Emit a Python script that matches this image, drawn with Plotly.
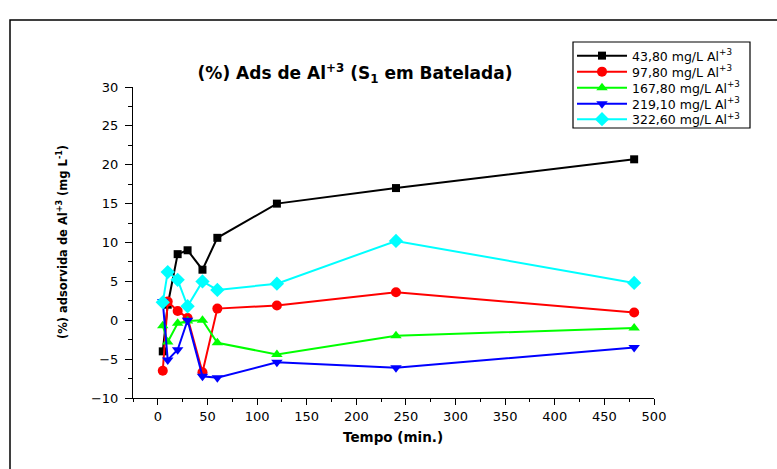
import plotly.graph_objects as go

tempo = [5, 10, 20, 30, 45, 60, 120, 240, 480]
s_43_80 = [-4.0, 2.0, 8.5, 9.0, 6.5, 10.6, 15.0, 17.0, 20.7]
s_97_80 = [-6.5, 2.4, 1.2, 0.3, -6.7, 1.5, 1.9, 3.6, 1.0]
s_167_80 = [-0.7, -2.8, -0.4, -0.1, 0.0, -2.9, -4.4, -2.0, -1.0]
s_219_10 = [2.4, -5.1, -3.8, 0.0, -7.2, -7.4, -5.4, -6.1, -3.5]
s_322_60 = [2.3, 6.2, 5.2, 1.8, 5.0, 3.9, 4.7, 10.2, 4.8]

names = ["43,80 mg/L Al<sup>+3</sup>", "97,80 mg/L Al<sup>+3</sup>",
         "167,80 mg/L Al<sup>+3</sup>", "219,10 mg/L Al<sup>+3</sup>",
         "322,60 mg/L Al<sup>+3</sup>"]
series = [s_43_80, s_97_80, s_167_80, s_219_10, s_322_60]
colors = ["#000000", "#FF0000", "#00FF00", "#0000FF", "#00FFFF"]
symbols = ["square", "circle", "triangle-up", "triangle-down", "diamond"]
sizes = [8, 10, 10, 10, 11]

x_ticks = list(range(0, 501, 50))
y_ticks = list(range(-10, 31, 5))

W, H = 777, 469
PL, PR, PT, PB = 133, 654, 87, 398  # plot area in pixels

font = "DejaVu Sans, Liberation Sans, Arial, sans-serif"

def px_x(p):
    return (p - PL) / (PR - PL)

def px_y(p):
    return (PB - p) / (PB - PT)

legend_rows = [56, 72, 88, 104, 119.5]

fig = go.Figure()
layout_legends = {}
for i, (nm, ys, c, sym, sz) in enumerate(zip(names, series, colors, symbols, sizes)):
    lg = "legend" if i == 0 else f"legend{i + 1}"
    fig.add_trace(go.Scatter(
        x=tempo, y=ys, name=nm, mode="lines+markers",
        line=dict(color=c, width=2),
        marker=dict(symbol=sym, size=sz, color=c, line=dict(width=0)),
        cliponaxis=False, legend=lg,
    ))
    layout_legends[lg] = dict(
        xref="container", yref="container",
        x=572 / W, y=1 - legend_rows[i] / H, xanchor="left", yanchor="middle",
        bgcolor="rgba(0,0,0,0)", borderwidth=0,
        font=dict(size=12.5, family=font, color="black"),
        itemwidth=50,
    )

fig.update_layout(
    width=W, height=H,
    margin=dict(l=PL, r=W - PR, t=PT, b=H - PB, autoexpand=False),
    paper_bgcolor="white", plot_bgcolor="white",
    font=dict(family=font, color="black", size=13),
    title=dict(text="<b>(%) Ads de Al<sup>+3</sup> (S<sub>1</sub> em Batelada)</b>",
               xref="container", yref="container",
               x=355 / W, xanchor="center", y=1 - 73 / H, yanchor="middle",
               font=dict(size=17, family=font)),
    showlegend=True,
    xaxis=dict(range=[-25, 500], tickvals=x_ticks, ticks="outside", ticklen=6,
               tickwidth=1, tickcolor="black", showline=True, linecolor="black",
               linewidth=1, showgrid=False, zeroline=False, automargin=False,
               minor=dict(ticks="outside", ticklen=3, tickcolor="black", dtick=25, tick0=0, showgrid=False),
               tickfont=dict(size=13)),
    yaxis=dict(range=[-10, 30], tickvals=y_ticks, ticks="outside", ticklen=7,
               tickwidth=1, tickcolor="black", showline=True, linecolor="black",
               linewidth=1, showgrid=False, zeroline=False, automargin=False,
               minor=dict(ticks="outside", ticklen=4, tickcolor="black", dtick=2.5, tick0=0, showgrid=False),
               ticklabelstandoff=4,
               tickfont=dict(size=13)),
    **layout_legends,
)

# axis titles
fig.add_annotation(text="<b>Tempo (min.)</b>", xref="paper", yref="paper",
                   x=px_x(393), y=px_y(437), xanchor="center", yanchor="middle",
                   showarrow=False, font=dict(size=13.5, family=font))
fig.add_annotation(text="<b>(%) adsorvida de Al<sup>+3</sup> (mg L<sup>-1</sup>)</b>",
                   xref="paper", yref="paper", textangle=-90,
                   x=px_x(62), y=px_y(242), xanchor="center", yanchor="middle",
                   showarrow=False, font=dict(size=11.5, family=font))

# legend frame
fig.add_shape(type="rect", xref="paper", yref="paper",
              x0=px_x(573), x1=px_x(750), y0=px_y(128), y1=px_y(42),
              line=dict(color="black", width=1.2), fillcolor="white", layer="below")

# outer figure frame
fig.add_shape(type="rect", xref="paper", yref="paper",
              x0=px_x(10), x1=px_x(790), y0=px_y(480), y1=px_y(20),
              line=dict(color="black", width=1.5), fillcolor="rgba(0,0,0,0)", layer="below")

fig.write_html("out.html", config={"displayModeBar": False},
               post_script="document.body.style.margin='0';document.body.style.overflow='hidden';")
